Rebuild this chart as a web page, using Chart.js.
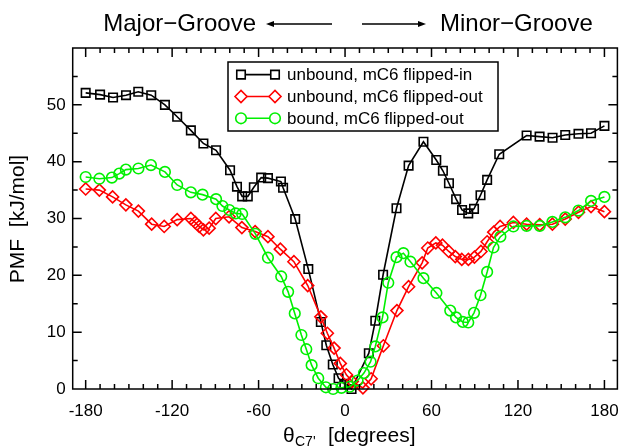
<!DOCTYPE html>
<html><head><meta charset="utf-8">
<script src="https://cdn.jsdelivr.net/npm/chart.js@4.4.1/dist/chart.umd.min.js"></script>
<style>html,body{margin:0;padding:0;background:#fff}#wrap{position:relative;width:625px;height:447px}</style>
</head><body><div id="wrap"><canvas id="c" width="625" height="447"></canvas></div>
<script>
// ---- data ----
const xTicks = [-180, -120, -60, 0, 60, 120, 180];
const yTicks = [0, 10, 20, 30, 40, 50];
const seriesLabels = ["unbound, mC6 flipped-in", "unbound, mC6 flipped-out", "bound, mC6 flipped-out"];
const titleLeft = "Major\u2212Groove";
const titleRight = "Minor\u2212Groove";

const xIn = [-180,-170,-161,-152,-143.5,-134.5,-125,-116.5,-107,-98.3,-89.5,-79.8,-75,-71.4,-67.5,-63.3,-58.2,-53.5,-44.5,-43,-34.6,-25.5,-16.8,-13,-8.5,-4.5,-0.5,4.5,16.5,21,26.4,35.7,44.1,54.4,63.3,67.9,72.1,77.1,81.2,85.5,89.5,94,98.6,107,126,135,144,152.8,162,170.7,180];
const yIn = [52.1,51.8,51.3,51.7,52.3,51.7,50.0,47.9,45.5,43.2,42.0,38.5,35.6,33.9,33.9,35.5,37.2,37.1,36.5,35.4,29.9,21.1,11.8,7.7,4.3,1.9,0.9,0,6.3,12,20.1,31.8,39.3,43.5,40.3,38.4,36.2,33.4,31.5,30.9,31.7,34.1,36.8,41.3,44.6,44.4,44.2,44.7,44.9,45.0,46.3];

const xOut = [-180,-170.5,-161.3,-152.1,-143.4,-134.2,-125.5,-116.5,-107,-104,-101.2,-98.3,-94.3,-89.7,-80.5,-71.6,-62.4,-53.5,-44.9,-35.5,-25.9,-16.8,-12.3,-7.6,-3.3,0.9,5,12.4,18.1,26.6,36,44.1,53.5,57.4,63,67.6,72,76.5,81,85.6,89.8,94.3,98.6,103.2,107.6,116.8,126,135.1,143.9,152.8,162,170.7,180];
const yOut = [35.2,35.0,33.8,32.4,31.3,29.0,28.6,29.8,30.0,29.3,28.6,28.0,28.3,30.0,30.3,28.4,27.7,26.8,24.6,22.4,18.2,12.7,9.8,7.2,4.5,2.5,1.3,0.2,1.8,7.6,13.8,18.0,22.2,24.8,25.7,25.3,24.2,23.3,22.8,22.8,23.2,24.2,25.9,27.6,28.6,29.3,29.0,28.9,29.0,29.9,31.1,32.1,31.2];

const xBound = [-180,-170.5,-161.8,-156.7,-152.1,-143.4,-134.7,-125,-116.5,-107,-98.9,-89.5,-85.1,-80.3,-75.9,-71.4,-62.2,-53.5,-44.3,-39.5,-34.9,-30.3,-26.9,-23.2,-18.6,-13.3,-8.3,-2.5,3.2,8.7,13.1,17.7,21,26,30,35.7,40.5,45.4,54.4,63.4,73,77,81.7,85.5,89.5,94,98.6,103,107.8,116.8,126,135.1,143.9,152.8,162,170.7,180];
const yBound = [37.3,37.0,37.2,37.9,38.6,38.8,39.4,38.2,35.9,34.6,34.2,33.4,32.2,31.5,30.9,30.8,27.3,23.1,19.8,17.1,13.3,9.5,7.0,4.2,1.9,0.3,0,0.2,0.4,1.5,2.8,4.8,7.5,12.6,18.7,23.2,23.9,22.4,19.5,16.9,13.8,12.6,11.8,11.7,13.4,16.5,20.6,24.9,26.8,28.6,28.7,28.7,29.4,30.2,31.4,33.1,33.8];

const pts = (xs, ys) => xs.map((v, i) => ({x: v, y: ys[i]}));
const FONT = "'Liberation Sans', Arial, Helvetica, sans-serif";

const styles = [
  {color: '#000000', pointStyle: 'rect', r: 6},
  {color: '#ff0000', pointStyle: 'rectRot', r: 6},
  {color: '#00f000', pointStyle: 'circle', r: 5.3}
];

function mk(i, xs, ys, order) {
  const s = styles[i];
  return {
    label: seriesLabels[i], data: pts(xs, ys), order: order,
    borderColor: s.color, borderWidth: 1.6, tension: 0, clip: false,
    pointStyle: s.pointStyle, pointRadius: s.r, pointHoverRadius: s.r,
    pointBorderColor: s.color, pointBackgroundColor: 'rgba(255,255,255,0)', pointBorderWidth: 1.6
  };
}

function drawMarker(ctx, style, r, x, y) {
  ctx.beginPath();
  if (style === 'rect') { const s = r * Math.SQRT1_2; ctx.rect(x - s, y - s, 2 * s, 2 * s); }
  else if (style === 'rectRot') { ctx.moveTo(x - r, y); ctx.lineTo(x, y - r); ctx.lineTo(x + r, y); ctx.lineTo(x, y + r); ctx.closePath(); }
  else { ctx.arc(x, y, r, 0, Math.PI * 2); }
  ctx.fillStyle = '#fff'; ctx.fill(); ctx.stroke();
}

const overlay = {
  id: 'overlay',
  afterDatasetsDraw(chart) {
    const {ctx, chartArea: a, scales: {x, y}} = chart;
    ctx.save();
    ctx.strokeStyle = '#000'; ctx.lineWidth = 1.5;
    ctx.strokeRect(a.left, a.top, a.right - a.left, a.bottom - a.top);
    ctx.beginPath();
    for (let v = -180; v <= 180; v += 10) {
      const px = x.getPixelForValue(v); const L = v % 60 === 0 ? 9 : 5;
      ctx.moveTo(px, a.bottom); ctx.lineTo(px, a.bottom - L);
      ctx.moveTo(px, a.top); ctx.lineTo(px, a.top + L);
    }
    for (let v = 5; v < 60; v += 5) {
      const py = y.getPixelForValue(v); const L = v % 10 === 0 ? 9 : 5;
      ctx.moveTo(a.left, py); ctx.lineTo(a.left + L, py);
      ctx.moveTo(a.right, py); ctx.lineTo(a.right - L, py);
    }
    ctx.stroke();

    // legend
    const lx = 228, ly = 62, lw = 270, lh = 69;
    ctx.fillStyle = '#fff'; ctx.fillRect(lx, ly, lw, lh);
    ctx.lineWidth = 1.5; ctx.strokeStyle = '#000'; ctx.strokeRect(lx, ly, lw, lh);
    const rows = [74.6, 96.5, 118.3];
    ctx.font = '17px ' + FONT; ctx.textBaseline = 'middle'; ctx.textAlign = 'left';
    for (let i = 0; i < 3; i++) {
      const s = styles[i]; const yy = rows[i];
      ctx.strokeStyle = s.color; ctx.lineWidth = 1.6;
      ctx.beginPath(); ctx.moveTo(241, yy); ctx.lineTo(275, yy); ctx.stroke();
      drawMarker(ctx, s.pointStyle, s.r, 241, yy);
      drawMarker(ctx, s.pointStyle, s.r, 275, yy);
      ctx.fillStyle = '#000'; ctx.fillText(seriesLabels[i], 287, yy + 1);
    }

    // top titles with arrows
    ctx.fillStyle = '#000'; ctx.strokeStyle = '#000'; ctx.lineWidth = 1.3;
    ctx.font = '24px ' + FONT; ctx.textBaseline = 'alphabetic';
    ctx.textAlign = 'right'; ctx.fillText(titleLeft, 256, 31);
    ctx.textAlign = 'left'; ctx.fillText(titleRight, 440, 31);
    const ay = 24;
    ctx.beginPath(); ctx.moveTo(332, ay); ctx.lineTo(272, ay); ctx.moveTo(362, ay); ctx.lineTo(420, ay); ctx.stroke();
    ctx.beginPath(); ctx.moveTo(266, ay); ctx.lineTo(274, ay - 3); ctx.lineTo(274, ay + 3); ctx.closePath(); ctx.fill();
    ctx.beginPath(); ctx.moveTo(426, ay); ctx.lineTo(418, ay - 3); ctx.lineTo(418, ay + 3); ctx.closePath(); ctx.fill();

    // x axis title
    ctx.textAlign = 'left';
    ctx.font = '21px ' + FONT; ctx.fillText('\u03B8', 283, 442);
    ctx.font = '14px ' + FONT; ctx.fillText("C7'", 295, 446);
    ctx.font = '21px ' + FONT; ctx.fillText('[degrees]', 328, 442);

    // y axis title
    ctx.save(); ctx.translate(24, 219); ctx.rotate(-Math.PI / 2);
    ctx.textAlign = 'center'; ctx.font = '21px ' + FONT;
    ctx.fillText('PMF  [kJ/mol]', 0, 0);
    ctx.restore();
    ctx.restore();
  }
};

new Chart(document.getElementById('c'), {
  type: 'line',
  data: { datasets: [ mk(0, xIn, yIn, 2), mk(1, xOut, yOut, 1), mk(2, xBound, yBound, 0) ] },
  options: {
    responsive: false, animation: false, devicePixelRatio: 1,
    layout: { padding: { top: 48, right: 3.3, left: 0, bottom: 0 } },
    plugins: { legend: { display: false }, tooltip: { enabled: false } },
    scales: {
      x: {
        type: 'linear', min: -189, max: 189,
        afterBuildTicks: s => { s.ticks = xTicks.map(v => ({value: v})); },
        afterFit: s => { s.height = 58; s.paddingLeft = 0; s.paddingRight = 0; },
        grid: { display: false, drawTicks: false }, border: { display: false },
        ticks: { color: '#000', font: { size: 17, family: FONT }, padding: 12, maxRotation: 0, autoSkip: false }
      },
      y: {
        type: 'linear', min: 0, max: 60,
        afterBuildTicks: s => { s.ticks = yTicks.map(v => ({value: v})); },
        afterFit: s => { s.width = 72.7; s.paddingTop = 0; s.paddingBottom = 0; },
        grid: { display: false, drawTicks: false }, border: { display: false },
        ticks: { color: '#000', font: { size: 17, family: FONT }, padding: 7 }
      }
    }
  },
  plugins: [overlay]
});
</script></body></html>
